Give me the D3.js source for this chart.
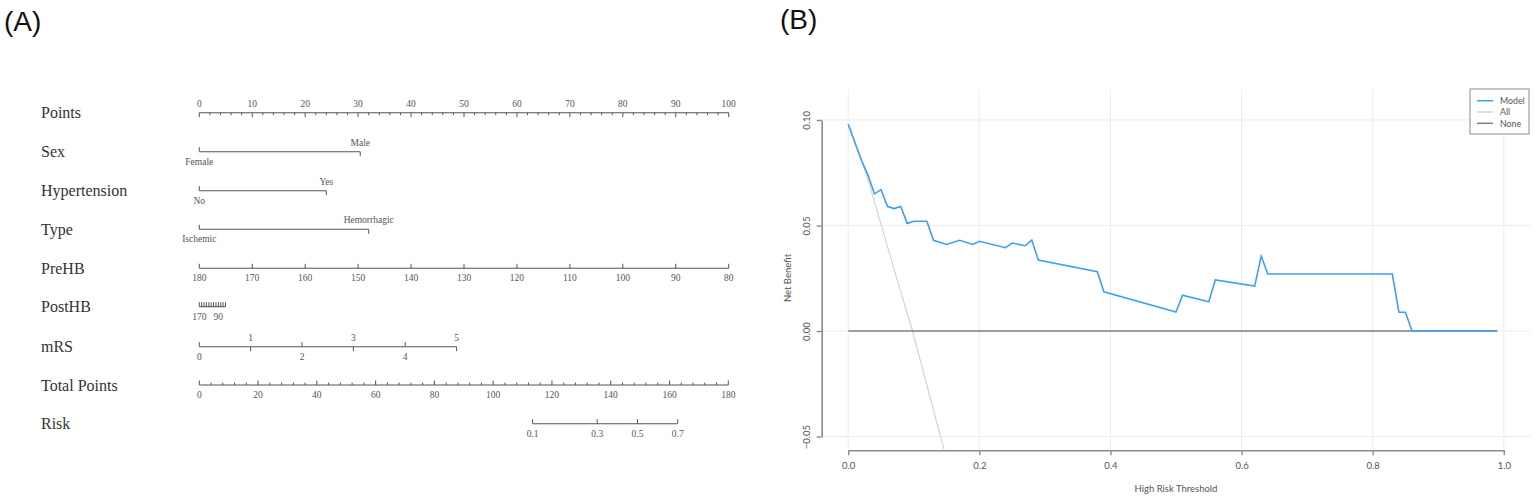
<!DOCTYPE html>
<html lang="en">
<head>
<meta charset="UTF-8">
<title>Nomogram and decision curve</title>
<script src="https://d3js.org/d3.v7.min.js"></script>
<style>
  body { margin: 0; background: #fff; }
  .rowlab { font-family: "Liberation Serif", serif; font-size: 16px; fill: #333; }
  .nlab { font-family: "Liberation Serif", serif; font-size: 9.5px; fill: #555; }
  .panel { font-family: "Liberation Sans", Arial, sans-serif; font-size: 28px; fill: #111; }
  .dca text { font-family: Lato, "Noto Sans", sans-serif; font-size: 9.5px; fill: #555; }
</style>
</head>
<body>
<svg width="1535" height="500"></svg>
<script>
// ---- nomogram data (A) ----
const pointsTicks = d3.range(0, 101, 10);
const sexLevels = ["Female", "Male"];
const sexPoints = [0, 30.4];
const htnLevels = ["No", "Yes"];
const htnPoints = [0, 24];
const typeLevels = ["Ischemic", "Hemorrhagic"];
const typePoints = [0, 32];
const preHBTicks = [180, 170, 160, 150, 140, 130, 120, 110, 100, 90, 80];
const preHBPoints = [0, 10, 20, 30, 40, 50, 60, 70, 80, 90, 100];
const postHBTicks = [170, 160, 150, 140, 130, 120, 110, 100, 90, 80, 70, 60];
const postHBPoints = [0, 0.45, 0.9, 1.35, 1.8, 2.25, 2.7, 3.15, 3.6, 4.05, 4.5, 4.95];
const postHBShown = [170, 90];
const mrsLevels = [0, 1, 2, 3, 4, 5];
const mrsPoints = [0, 9.7, 19.4, 29.1, 38.9, 48.6];
const totalTicks = d3.range(0, 181, 20);
const riskTicks = [0.1, 0.3, 0.5, 0.7];
const riskTotal = [113.4, 135.4, 149.1, 162.8];

// ---- decision curve data (B) ----
const modelThr = [0, 0.02, 0.03, 0.04, 0.05, 0.06, 0.07, 0.08, 0.09, 0.10, 0.12, 0.13, 0.15, 0.17, 0.19, 0.20,
  0.24, 0.25, 0.27, 0.28, 0.29, 0.38, 0.39, 0.50, 0.51, 0.55, 0.56, 0.62, 0.63, 0.64, 0.83, 0.84, 0.85, 0.86, 0.99];
const modelNB = [0.098, 0.081, 0.074, 0.065, 0.067, 0.059, 0.058, 0.059, 0.051, 0.052, 0.052, 0.043, 0.041, 0.043, 0.041, 0.0425,
  0.0395, 0.0417, 0.0404, 0.0431, 0.0336, 0.0281, 0.0186, 0.009, 0.017, 0.0139, 0.0242, 0.0213, 0.0355, 0.027, 0.027, 0.0089, 0.0089, 0, 0];
const allThr = [0, 0.028, 0.075, 0.098, 0.146];
const allNB = [0.098, 0.074, 0.024, 0, -0.056];
const noneThr = [0, 0.99];
const noneNB = [0, 0];
const xTicks = [0, 0.2, 0.4, 0.6, 0.8, 1.0];
const yTicks = [-0.05, 0, 0.05, 0.10];
const legendNames = ["Model", "All", "None"];
const legendColors = ["#3f9ff2", "#d4d4d4", "#808080"];

const svg = d3.select("svg");

svg.append("text").attr("class", "panel").attr("x", 4).attr("y", 31).text("(A)");
svg.append("text").attr("class", "panel").attr("x", 780).attr("y", 29).text("(B)");

// ================= (A) nomogram =================
const nom = svg.append("g");
const px = d3.scaleLinear().domain([0, 100]).range([199.3, 728.7]);
const tx = d3.scaleLinear().domain([0, 180]).range([199.3, 728.3]);
const axisCol = "#555";

const rows = ["Points", "Sex", "Hypertension", "Type", "PreHB", "PostHB", "mRS", "Total Points", "Risk"];
const rowLine = [112.7, 151.7, 190.7, 229.3, 268.3, 306.7, 346.7, 385, 423.7];
const lineY = name => rowLine[rows.indexOf(name)];

nom.selectAll(".rowlab").data(rows).enter().append("text")
  .attr("class", "rowlab")
  .attr("x", 41)
  .attr("y", d => lineY(d) + 5.5)
  .text(d => d);

// one scale line; side "up" = label above (tick down), "down" = label below (tick up)
function drawScale(y, ticks, tickLen) {
  const g = nom.append("g");
  const xs = ticks.map(t => t.pos);
  g.append("line")
    .attr("x1", d3.min(xs)).attr("x2", d3.max(xs))
    .attr("y1", y).attr("y2", y)
    .attr("stroke", axisCol).attr("stroke-width", 1.1);
  g.selectAll("line.t").data(ticks).enter().append("line")
    .attr("class", "t")
    .attr("x1", d => d.pos).attr("x2", d => d.pos)
    .attr("y1", y)
    .attr("y2", d => d.side === "up" ? y + (d.len || tickLen) : y - (d.len || tickLen))
    .attr("stroke", axisCol).attr("stroke-width", 1);
  g.selectAll("text").data(ticks.filter(d => d.label !== "")).enter().append("text")
    .attr("class", "nlab")
    .attr("x", d => d.pos)
    .attr("y", d => d.side === "up" ? y - 6 : y + 13)
    .attr("text-anchor", "middle")
    .text(d => d.label);
}

// Points
const pMinor = d3.range(0, 101, 2).filter(v => v % 10 !== 0)
  .map(v => ({ pos: px(v), label: "", side: "up", len: 2.5 }));
drawScale(lineY("Points"), pointsTicks.map(v => ({ pos: px(v), label: String(v), side: "up" })).concat(pMinor), 4.5);

// binary factors
function factorRow(name, levels, pts) {
  drawScale(lineY(name), levels.map((l, i) => ({ pos: px(pts[i]), label: l, side: i % 2 === 0 ? "down" : "up" })), 4.5);
}
factorRow("Sex", sexLevels, sexPoints);
factorRow("Hypertension", htnLevels, htnPoints);
factorRow("Type", typeLevels, typePoints);

// PreHB
drawScale(lineY("PreHB"), preHBTicks.map((v, i) => ({ pos: px(preHBPoints[i]), label: String(v), side: "down" })), 4.5);

// PostHB
drawScale(lineY("PostHB"), postHBTicks.map((v, i) => ({
  pos: px(postHBPoints[i]), label: postHBShown.includes(v) ? String(v) : "", side: "down"
})), 4.5);

// mRS
drawScale(lineY("mRS"), mrsLevels.map((v, i) => ({ pos: px(mrsPoints[i]), label: String(v), side: i % 2 === 0 ? "down" : "up" })), 4.5);

// Total points
const tMinor = d3.range(0, 181, 4).filter(v => v % 20 !== 0)
  .map(v => ({ pos: tx(v), label: "", side: "down", len: 2.5 }));
drawScale(lineY("Total Points"), totalTicks.map(v => ({ pos: tx(v), label: String(v), side: "down" })).concat(tMinor), 4.5);

// Risk
drawScale(lineY("Risk"), riskTicks.map((v, i) => ({ pos: tx(riskTotal[i]), label: String(v), side: "down" })), 4.5);

// ================= (B) decision curve =================
const dca = svg.append("g").attr("class", "dca");
const x = d3.scaleLinear().domain([-0.04, 1.04]).range([822, 1530]);
const y = d3.scaleLinear().domain([-0.0559, 0.1142]).range([449, 90]);

dca.append("defs").append("clipPath").attr("id", "plotclip")
  .append("rect").attr("x", 822).attr("y", 90).attr("width", 708).attr("height", 359);

// grid
dca.selectAll(".gx").data(xTicks).enter().append("line")
  .attr("x1", d => x(d)).attr("x2", d => x(d)).attr("y1", 90).attr("y2", 449)
  .attr("stroke", "#ededed").attr("stroke-width", 1);
dca.selectAll(".gy").data(yTicks).enter().append("line")
  .attr("x1", 822).attr("x2", 1530).attr("y1", d => y(d)).attr("y2", d => y(d))
  .attr("stroke", "#ededed").attr("stroke-width", 1);

// axes span only the tick range
const xa = d3.scaleLinear().domain([0, 1]).range([x(0), x(1)]);
const ya = d3.scaleLinear().domain([-0.05, 0.10]).range([y(-0.05), y(0.10)]);
const gx = dca.append("g").attr("transform", "translate(0,450.3)")
  .call(d3.axisBottom(xa).tickValues(xTicks).tickSize(5).tickSizeOuter(0).tickPadding(7).tickFormat(d3.format(".1f")));
const gy = dca.append("g").attr("transform", "translate(821.7,0)")
  .call(d3.axisLeft(ya).tickValues(yTicks).tickSize(5).tickSizeOuter(0).tickFormat(d3.format(".2f")));
[gx, gy].forEach(g => {
  g.select(".domain").attr("stroke", "#8a8a8a").attr("stroke-width", 1.6);
  g.selectAll(".tick line").attr("stroke", "#8a8a8a").attr("stroke-width", 1.4);
  g.selectAll("text").attr("font-family", "Lato, sans-serif").attr("font-size", 9.5).attr("fill", "#555");
});
gy.selectAll(".tick text")
  .attr("x", null).attr("dy", null)
  .attr("text-anchor", "middle")
  .attr("transform", "translate(-12,0) rotate(-90)");

dca.append("text").attr("x", 1176).attr("y", 492).attr("text-anchor", "middle").text("High Risk Threshold");
dca.append("text").attr("transform", "translate(791,278) rotate(-90)").attr("text-anchor", "middle").text("Net Benefit");

const line = d3.line().x(d => x(d[0])).y(d => y(d[1]));
const plot = dca.append("g").attr("clip-path", "url(#plotclip)");
plot.append("path").datum(d3.zip(allThr, allNB)).attr("d", line)
  .attr("fill", "none").attr("stroke", legendColors[1]).attr("stroke-width", 1.2);
plot.append("path").datum(d3.zip(noneThr, noneNB)).attr("d", line)
  .attr("fill", "none").attr("stroke", legendColors[2]).attr("stroke-width", 1.5);
plot.append("path").datum(d3.zip(modelThr, modelNB)).attr("d", line)
  .attr("fill", "none").attr("stroke", legendColors[0]).attr("stroke-width", 1.6);

// legend
const lg = dca.append("g");
lg.append("rect").attr("x", 1470).attr("y", 89).attr("width", 59).attr("height", 45)
  .attr("fill", "#fff").attr("stroke", "#8a8a8a").attr("stroke-width", 1);
const li = lg.selectAll(".li").data(legendNames).enter().append("g")
  .attr("transform", (d, i) => `translate(0,${100.7 + i * 11.3})`);
li.append("line").attr("x1", 1477).attr("x2", 1493).attr("y1", 0).attr("y2", 0)
  .attr("stroke", (d, i) => legendColors[i]).attr("stroke-width", 1.5);
li.append("text").attr("x", 1500).attr("y", 3.3).text(d => d)
  .attr("fill", "#444").style("font-size", "8.8px");
</script>
</body>
</html>
